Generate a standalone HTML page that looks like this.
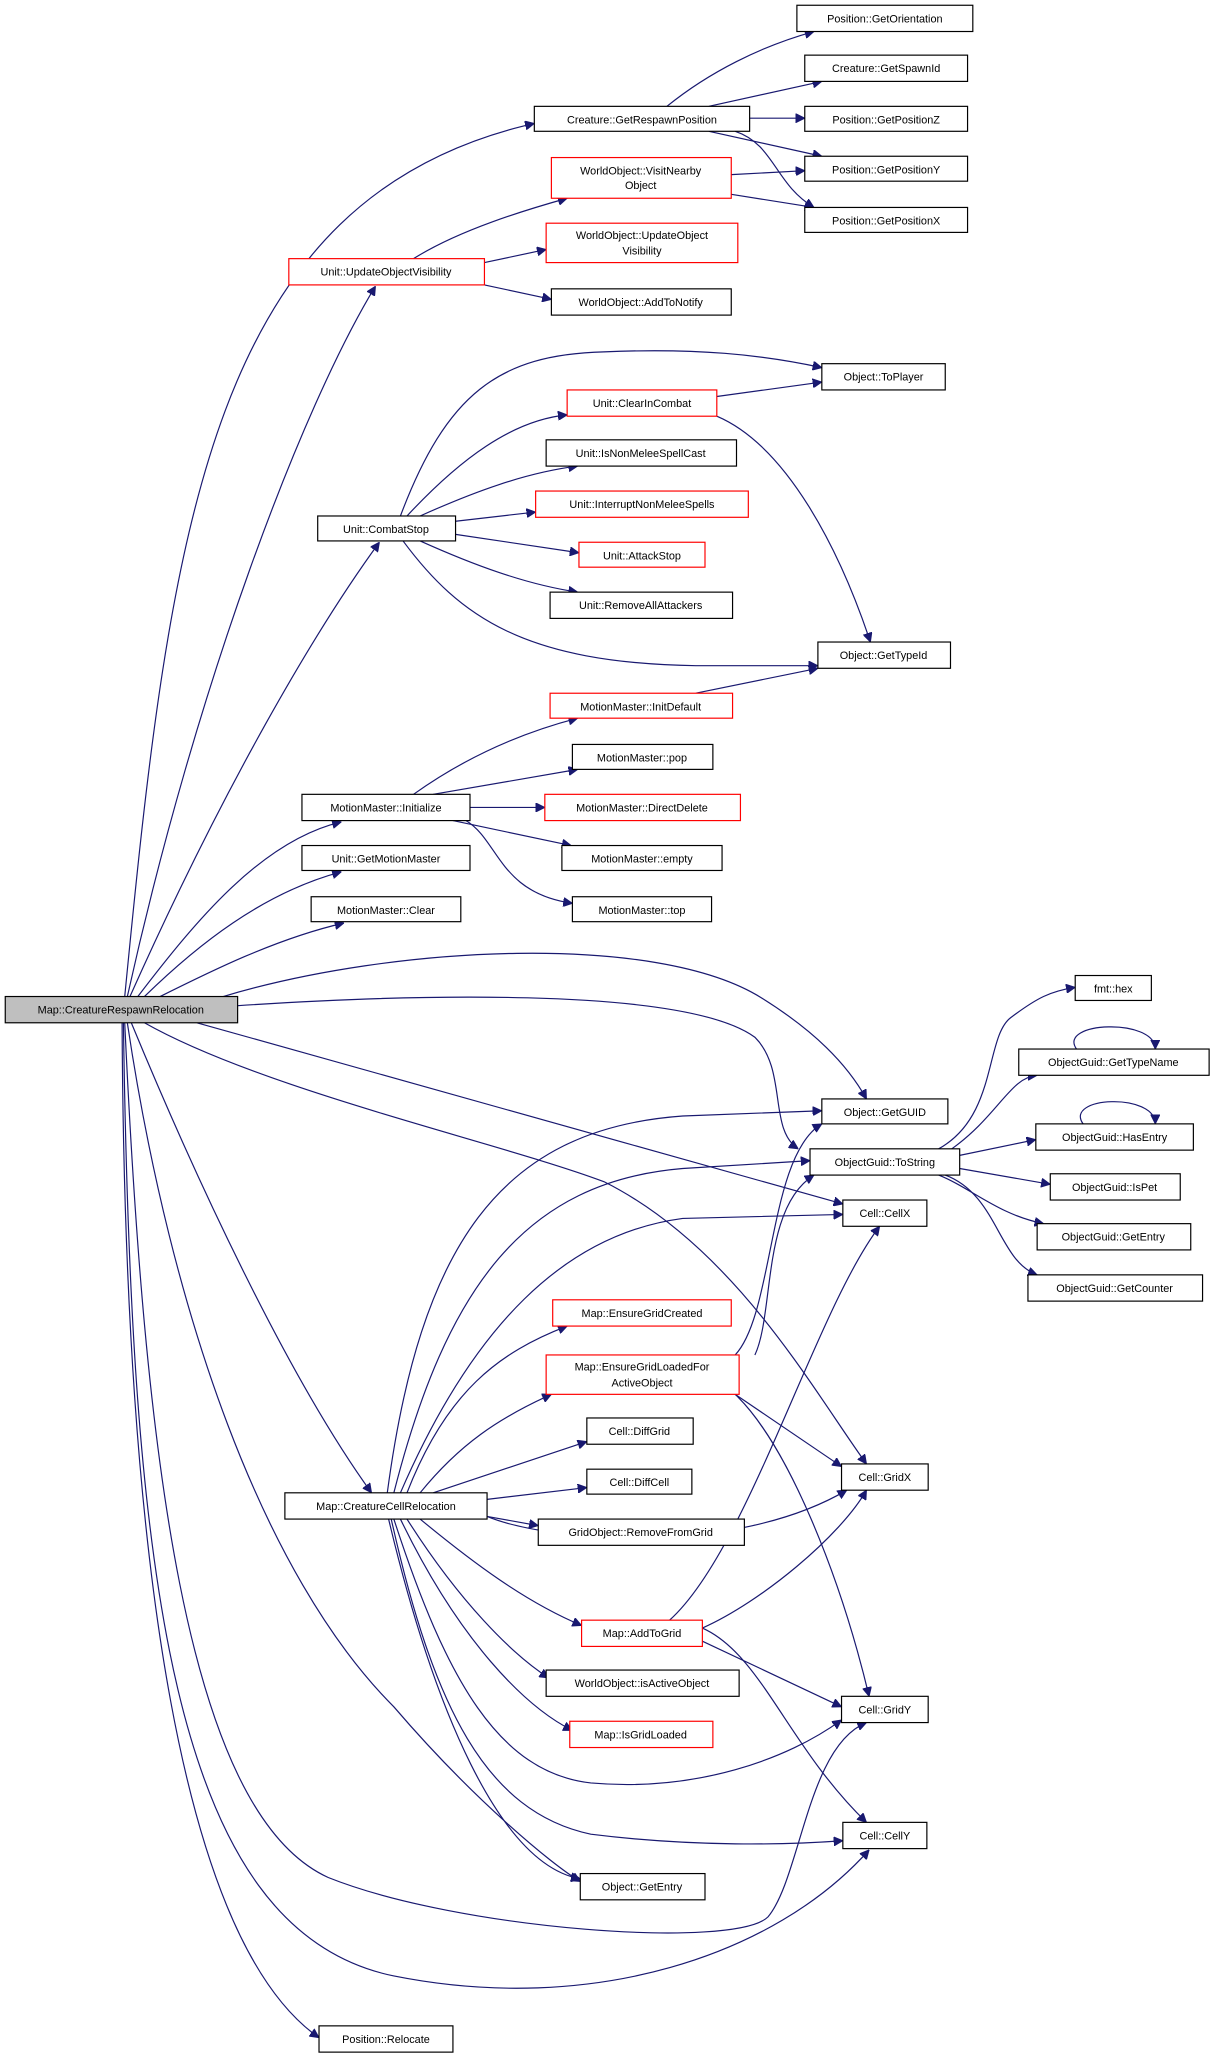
<!DOCTYPE html>
<html><head><meta charset="utf-8"><style>
html,body{margin:0;padding:0;background:#fff;}
svg{display:block;}
text{font-family:"Liberation Sans",sans-serif;font-size:8.3px;fill:#000;text-anchor:middle;}
.e{fill:none;stroke:#191970;stroke-width:0.9;}
.n{fill:#fff;stroke:#000;stroke-width:0.9;}
.r{fill:#fff;stroke:#ff0000;stroke-width:0.9;}
.g{fill:#bfbfbf;stroke:#000;stroke-width:0.9;}
</style></head><body>
<svg width="1217" height="2060" viewBox="0 0 927 1569" preserveAspectRatio="none" xmlns="http://www.w3.org/2000/svg">
<defs><marker id="a" viewBox="0 0 10 10" refX="10" refY="5" markerWidth="7" markerHeight="7" orient="auto" markerUnits="userSpaceOnUse"><path d="M0,0 L10,5 L0,10 z" fill="#191970" stroke="#191970"/></marker></defs>
<g class="e" marker-end="url(#a)">
<path d="M95,759 C130,400 160,150 407,94"/>
<path d="M97,759 C150,520 230,310 286,218"/>
<path d="M99,759 C170,600 240,480 289,413"/>
<path d="M105,759 C150,700 200,640 260,626"/>
<path d="M110,759 C150,720 200,680 260,664"/>
<path d="M120,760 C160,740 210,715 262,703"/>
<path d="M170,759 C300,720 500,710 580,760 C620,785 645,810 660,837"/>
<path d="M181,766 C300,758 520,750 575,790 C600,815 585,860 608,875"/>
<path d="M150,779 L642,917"/>
<path d="M110,779 C200,830 380,870 460,900 C560,950 620,1060 660,1115"/>
<path d="M100,779 C150,900 220,1050 283,1137"/>
<path d="M97,779 C130,1000 200,1200 300,1300 C360,1370 420,1420 442,1433"/>
<path d="M95,779 C110,1100 140,1380 250,1430 C350,1470 560,1485 585,1460 C610,1430 615,1330 660,1312"/>
<path d="M94,779 C100,1200 130,1470 300,1505 C450,1535 590,1490 662,1409"/>
<path d="M93,779 C95,1200 140,1480 243,1552"/>
<path d="M508,81 C540,55 580,35 620,24"/>
<path d="M540,81 L626,62"/>
<path d="M571,90 L613,90"/>
<path d="M540,100 L626,119"/>
<path d="M560,100 C590,110 590,140 620,158"/>
<path d="M557,133 L613,130"/>
<path d="M557,148 L620,158"/>
<path d="M315,197 C350,175 400,160 432,151"/>
<path d="M369,200 L416,190"/>
<path d="M369,217 L420,228"/>
<path d="M305,393 C340,300 380,270 460,268 C530,265 580,270 626,280"/>
<path d="M310,393 C350,350 390,320 432,316"/>
<path d="M320,393 C360,375 400,360 440,355"/>
<path d="M347,397 L408,390"/>
<path d="M347,407 L441,421"/>
<path d="M320,412 C360,430 400,445 440,451"/>
<path d="M307,412 C350,470 400,505 530,507 L623,507"/>
<path d="M546,302 L626,291"/>
<path d="M546,317 C600,340 640,420 663,489"/>
<path d="M530,528 L623,509"/>
<path d="M315,605 C350,580 390,560 440,547"/>
<path d="M330,605 L440,586"/>
<path d="M358,615 L415,615"/>
<path d="M345,625 L435,644"/>
<path d="M355,625 C380,640 380,680 436,688"/>
<path d="M715,875 C760,850 750,790 770,775 C790,760 800,755 819,752"/>
<path d="M725,875 C760,850 770,820 790,819"/>
<path d="M731,880 L789,868"/>
<path d="M731,890 L800,902"/>
<path d="M715,895 C740,905 760,925 795,932"/>
<path d="M720,895 C760,910 760,960 790,971"/>
<path d="M820,799 C805,778 880,775 880,799"/>
<path d="M825,856 C810,835 880,832 880,856"/>
<path d="M295,1137 C320,950 380,860 520,850 L626,846"/>
<path d="M300,1137 C340,980 400,900 520,890 L617,884"/>
<path d="M305,1137 C360,1010 430,940 520,928 L642,925"/>
<path d="M310,1137 C340,1060 380,1030 432,1010"/>
<path d="M320,1137 C350,1100 380,1080 420,1062"/>
<path d="M330,1137 L447,1098"/>
<path d="M371,1142 L447,1133"/>
<path d="M371,1155 L410,1162"/>
<path d="M371,1155 C420,1175 560,1185 645,1135"/>
<path d="M320,1157 C360,1190 400,1220 443,1238"/>
<path d="M310,1157 C350,1220 390,1260 418,1278"/>
<path d="M305,1157 C350,1250 400,1300 436,1318"/>
<path d="M300,1157 C340,1280 380,1350 450,1358 C530,1365 600,1340 641,1310"/>
<path d="M298,1157 C330,1300 370,1380 450,1397 C530,1407 600,1405 642,1402"/>
<path d="M296,1157 C330,1300 380,1420 442,1431"/>
<path d="M560,1032 C590,1000 585,880 626,856"/>
<path d="M575,1032 C590,1000 580,920 620,895"/>
<path d="M560,1062 L641,1117"/>
<path d="M560,1062 C600,1100 640,1200 662,1292"/>
<path d="M510,1234 C570,1180 620,1000 670,934"/>
<path d="M535,1240 C580,1220 640,1170 660,1135"/>
<path d="M535,1250 L641,1300"/>
<path d="M535,1240 C580,1260 600,1330 660,1388"/>
</g>
<g>
<rect class="n" x="607" y="4" width="134" height="20"/><text x="674" y="17">Position::GetOrientation</text>
<rect class="n" x="613" y="42" width="124" height="20"/><text x="675" y="55">Creature::GetSpawnId</text>
<rect class="n" x="613" y="81" width="124" height="19"/><text x="675" y="94">Position::GetPositionZ</text>
<rect class="n" x="613" y="119" width="124" height="19"/><text x="675" y="132">Position::GetPositionY</text>
<rect class="n" x="613" y="158" width="124" height="19"/><text x="675" y="171">Position::GetPositionX</text>
<rect class="n" x="407" y="81" width="164" height="19"/><text x="489" y="94">Creature::GetRespawnPosition</text>
<rect class="r" x="420" y="120" width="137" height="31"/><text x="488" y="133">WorldObject::VisitNearby</text><text x="488" y="144">Object</text>
<rect class="r" x="416" y="170" width="146" height="30"/><text x="489" y="182">WorldObject::UpdateObject</text><text x="489" y="194">Visibility</text>
<rect class="r" x="220" y="197" width="149" height="20"/><text x="294" y="210">Unit::UpdateObjectVisibility</text>
<rect class="n" x="420" y="220" width="137" height="20"/><text x="488" y="233">WorldObject::AddToNotify</text>
<rect class="n" x="626" y="277" width="94" height="20"/><text x="673" y="290">Object::ToPlayer</text>
<rect class="r" x="432" y="297" width="114" height="20"/><text x="489" y="310">Unit::ClearInCombat</text>
<rect class="n" x="416" y="335" width="145" height="20"/><text x="488" y="348">Unit::IsNonMeleeSpellCast</text>
<rect class="r" x="408" y="374" width="162" height="20"/><text x="489" y="387">Unit::InterruptNonMeleeSpells</text>
<rect class="r" x="441" y="413" width="96" height="19"/><text x="489" y="426">Unit::AttackStop</text>
<rect class="n" x="419" y="451" width="139" height="20"/><text x="488" y="464">Unit::RemoveAllAttackers</text>
<rect class="n" x="242" y="393" width="105" height="19"/><text x="294" y="406">Unit::CombatStop</text>
<rect class="n" x="623" y="489" width="101" height="20"/><text x="673" y="502">Object::GetTypeId</text>
<rect class="r" x="419" y="528" width="139" height="19"/><text x="488" y="541">MotionMaster::InitDefault</text>
<rect class="n" x="436" y="567" width="107" height="19"/><text x="489" y="580">MotionMaster::pop</text>
<rect class="n" x="230" y="605" width="128" height="20"/><text x="294" y="618">MotionMaster::Initialize</text>
<rect class="r" x="415" y="605" width="149" height="20"/><text x="489" y="618">MotionMaster::DirectDelete</text>
<rect class="n" x="428" y="644" width="122" height="19"/><text x="489" y="657">MotionMaster::empty</text>
<rect class="n" x="230" y="644" width="128" height="19"/><text x="294" y="657">Unit::GetMotionMaster</text>
<rect class="n" x="436" y="683" width="106" height="19"/><text x="489" y="696">MotionMaster::top</text>
<rect class="n" x="237" y="683" width="114" height="19"/><text x="294" y="696">MotionMaster::Clear</text>
<rect class="g" x="4" y="759" width="177" height="20"/><text x="92" y="772">Map::CreatureRespawnRelocation</text>
<rect class="n" x="819" y="743" width="58" height="19"/><text x="848" y="756">fmt::hex</text>
<rect class="n" x="776" y="799" width="145" height="20"/><text x="848" y="812">ObjectGuid::GetTypeName</text>
<rect class="n" x="789" y="856" width="120" height="20"/><text x="849" y="869">ObjectGuid::HasEntry</text>
<rect class="n" x="626" y="837" width="96" height="19"/><text x="674" y="850">Object::GetGUID</text>
<rect class="n" x="617" y="875" width="114" height="20"/><text x="674" y="888">ObjectGuid::ToString</text>
<rect class="n" x="800" y="894" width="99" height="20"/><text x="849" y="907">ObjectGuid::IsPet</text>
<rect class="n" x="642" y="914" width="64" height="20"/><text x="674" y="927">Cell::CellX</text>
<rect class="n" x="790" y="932" width="117" height="20"/><text x="848" y="945">ObjectGuid::GetEntry</text>
<rect class="n" x="783" y="971" width="133" height="20"/><text x="849" y="984">ObjectGuid::GetCounter</text>
<rect class="r" x="421" y="990" width="136" height="20"/><text x="489" y="1003">Map::EnsureGridCreated</text>
<rect class="r" x="416" y="1032" width="147" height="30"/><text x="489" y="1044">Map::EnsureGridLoadedFor</text><text x="489" y="1056">ActiveObject</text>
<rect class="n" x="447" y="1080" width="81" height="20"/><text x="487" y="1093">Cell::DiffGrid</text>
<rect class="n" x="641" y="1115" width="66" height="20"/><text x="674" y="1128">Cell::GridX</text>
<rect class="n" x="447" y="1119" width="80" height="19"/><text x="487" y="1132">Cell::DiffCell</text>
<rect class="n" x="217" y="1137" width="154" height="20"/><text x="294" y="1150">Map::CreatureCellRelocation</text>
<rect class="n" x="410" y="1157" width="157" height="20"/><text x="488" y="1170">GridObject::RemoveFromGrid</text>
<rect class="r" x="443" y="1234" width="92" height="20"/><text x="489" y="1247">Map::AddToGrid</text>
<rect class="n" x="416" y="1272" width="147" height="20"/><text x="489" y="1285">WorldObject::isActiveObject</text>
<rect class="n" x="641" y="1292" width="66" height="20"/><text x="674" y="1305">Cell::GridY</text>
<rect class="r" x="434" y="1311" width="109" height="20"/><text x="488" y="1324">Map::IsGridLoaded</text>
<rect class="n" x="642" y="1388" width="64" height="20"/><text x="674" y="1401">Cell::CellY</text>
<rect class="n" x="442" y="1427" width="95" height="20"/><text x="489" y="1440">Object::GetEntry</text>
<rect class="n" x="243" y="1543" width="102" height="20"/><text x="294" y="1556">Position::Relocate</text>
</g>
</svg>
</body></html>
